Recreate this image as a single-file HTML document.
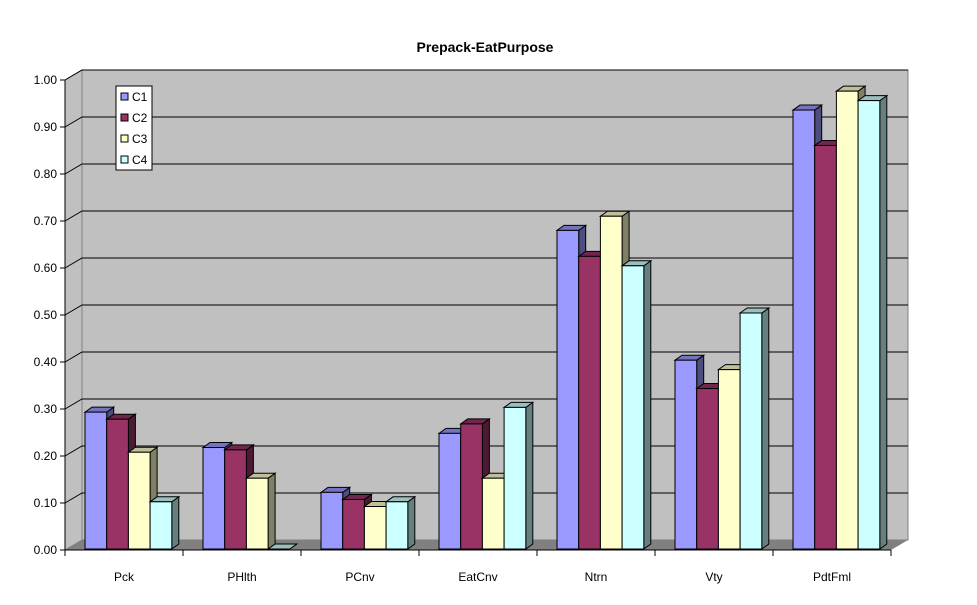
<!DOCTYPE html>
<html><head><meta charset="utf-8"><style>
body{margin:0;background:#fff;font-family:"Liberation Sans",Arial,sans-serif}
svg text{font-family:"Liberation Sans",Arial,sans-serif}
</style></head><body>
<svg id="c" width="977" height="600" viewBox="0 0 977 600">
<text x="485" y="52" text-anchor="middle" font-size="14" font-weight="bold">Prepack-EatPurpose</text>
<g id="walls"></g><g id="grid"></g><g id="bars"></g><g id="axes"></g>
<g>
<rect x="116" y="86" width="36" height="84" fill="#fff" stroke="#000"/>
<g id="legend"></g></g>
</svg>
<script>
const categories=["Pck","PHlth","PCnv","EatCnv","Ntrn","Vty","PdtFml"];
const c1=[0.29,0.215,0.12,0.245,0.675,0.40,0.93];
const c2=[0.275,0.21,0.105,0.265,0.62,0.34,0.855];
const c3=[0.205,0.15,0.09,0.15,0.705,0.38,0.97];
const c4=[0.10,0.0,0.10,0.30,0.60,0.50,0.95];
const seriesNames=["C1","C2","C3","C4"];
const yTicks=["0.00","0.10","0.20","0.30","0.40","0.50","0.60","0.70","0.80","0.90","1.00"];
const NS="http://www.w3.org/2000/svg";
function mk(p,t,a){const e=document.createElementNS(NS,t);for(const k in a)e.setAttribute(k,a[k]);p.appendChild(e);return e;}
const X0=65,X1=891,DX=17,DY=-10,BW=21.7,DDX=7,DDY=-5;
const fy=v=>550-v*470; // front
const by=v=>549-v*472;  // bars
const cw=(X1-X0)/categories.length;
const cx=i=>X0+i*cw;
const walls=document.getElementById('walls'),grid=document.getElementById('grid'),bars=document.getElementById('bars'),axes=document.getElementById('axes');
let w=mk(walls,'polygon',{points:`${X0},${fy(0)} ${X0+DX},${fy(0)+DY} ${X0+DX},${fy(1)+DY} ${X0},${fy(1)}`,fill:'#c0c0c0',stroke:'#808080'});

w=mk(walls,'rect',{x:X0+DX,y:fy(1)+DY,width:X1-X0,height:470,fill:'#c0c0c0',stroke:'#808080'});

w=mk(walls,'polygon',{points:`${X0},${fy(0)} ${X1},${fy(0)} ${X1+DX},${fy(0)+DY} ${X0+DX},${fy(0)+DY}`,fill:'#808080'});

yTicks.forEach(t=>{const v=parseFloat(t);const y=fy(v);
 if(v>0){const g=mk(grid,'polyline',{points:`${X0},${y} ${X0+DX},${y+DY} ${X1+DX},${y+DY}`,fill:'none',stroke:'#000'});
 }
 mk(axes,'line',{x1:X0-5,y1:y,x2:X0,y2:y,stroke:'#000'});
 const tx=mk(axes,'text',{x:X0-8,y:y+4,'text-anchor':'end','font-size':12});tx.textContent=t;
 
});
mk(axes,'line',{x1:X0,y1:fy(0),x2:X0,y2:fy(1),stroke:'#000'});
mk(axes,'line',{x1:X0,y1:fy(0),x2:X1,y2:fy(0),stroke:'#000'});
categories.forEach((c,i)=>{mk(axes,'line',{x1:cx(i),y1:fy(0),x2:cx(i),y2:fy(0)+6,stroke:'#000'});
 const t=mk(axes,'text',{x:cx(i)+cw/2,y:581,'text-anchor':'middle','font-size':12});t.textContent=c;
 });
mk(axes,'line',{x1:X1,y1:fy(0),x2:X1,y2:fy(0)+6,stroke:'#000'});
const series=[c1,c2,c3,c4];
const cols=[["#9999ff","#7373bf","#4d4d80"],["#993366","#73264d","#4d1a33"],["#ffffcc","#bfbf99","#808066"],["#ccffff","#99bfbf","#668080"]];
categories.forEach((c,i)=>{for(let s=3;s>=0;s--){}
 for(let s=0;s<4;s++){const v=series[s][i];const x=cx(i)+20+s*BW,yb=549,yt=by(v);
  const g=mk(bars,'g',{});
  
  
  mk(g,'polygon',{points:`${x+BW},${yt} ${x+BW+DDX},${yt+DDY} ${x+BW+DDX},${yb+DDY} ${x+BW},${yb}`,fill:cols[s][2],stroke:'#000'});
  mk(g,'polygon',{points:`${x},${yt} ${x+DDX},${yt+DDY} ${x+BW+DDX},${yt+DDY} ${x+BW},${yt}`,fill:cols[s][1],stroke:'#000'});
  mk(g,'rect',{x:x,y:yt,width:BW,height:yb-yt,fill:cols[s][0],stroke:'#000'});
 }});
const lg=document.getElementById('legend');
seriesNames.forEach((n,s)=>{const y=97+s*21;
 const g=mk(lg,'g',{});
 mk(g,'rect',{x:121,y:y-4,width:7,height:7,fill:cols[s][0],stroke:'#000'});
 const t=mk(g,'text',{x:132,y:y+4,'font-size':12});t.textContent=n;});
</script>
</body></html>
